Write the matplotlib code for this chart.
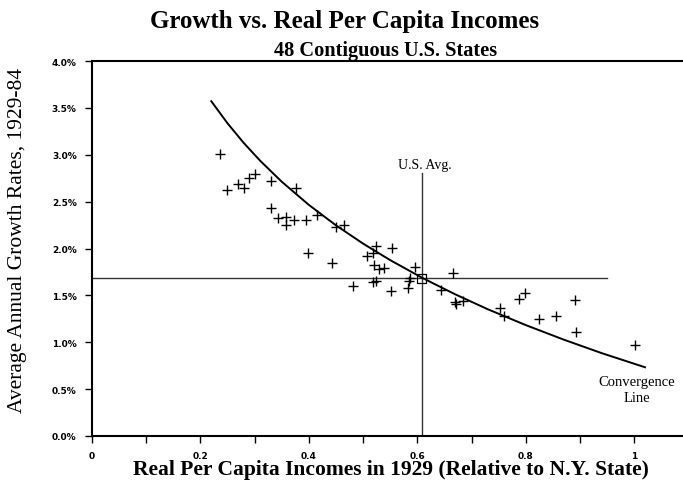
import matplotlib
matplotlib.use("Agg")
import matplotlib.pyplot as plt
from matplotlib.ticker import MultipleLocator, FixedLocator

# ---- data ----
state_income = [0.236, 0.249, 0.269, 0.280, 0.290, 0.301, 0.331, 0.376, 0.330, 0.343,
                0.358, 0.358, 0.372, 0.395, 0.415, 0.450, 0.465, 0.398, 0.442, 0.523,
                0.553, 0.518, 0.507, 0.521, 0.529, 0.539, 0.596, 0.587, 0.585, 0.481,
                0.518, 0.524, 0.552, 0.583, 0.665, 0.644, 0.670, 0.672, 0.685, 0.753,
                0.760, 0.788, 0.798, 0.824, 0.856, 0.890, 0.893, 1.002]
state_growth = [3.008, 2.624, 2.688, 2.645, 2.750, 2.797, 2.718, 2.642, 2.430, 2.328,
                2.334, 2.251, 2.299, 2.304, 2.357, 2.229, 2.251, 1.955, 1.843, 2.024,
                2.004, 1.952, 1.917, 1.824, 1.781, 1.797, 1.800, 1.683, 1.650, 1.603,
                1.645, 1.656, 1.550, 1.575, 1.742, 1.560, 1.426, 1.408, 1.442, 1.362,
                1.277, 1.461, 1.522, 1.245, 1.277, 1.454, 1.106, 0.970]
us_avg_income = 0.608
us_avg_growth = 1.683

curve_x = [0.22, 0.25, 0.28, 0.31, 0.35, 0.40, 0.45, 0.50, 0.55, 0.61,
           0.67, 0.73, 0.80, 0.87, 0.94, 1.02]
curve_y = [3.571, 3.335, 3.125, 2.937, 2.712, 2.465, 2.247, 2.052, 1.876, 1.684,
           1.511, 1.352, 1.183, 1.028, 0.884, 0.733]

x_ticks = [0, 0.2, 0.4, 0.6, 0.8, 1.0]
x_tick_labels = ["0", "0.2", "0.4", "0.6", "0.8", "1"]
y_ticks = [0.0, 0.5, 1.0, 1.5, 2.0, 2.5, 3.0, 3.5, 4.0]
y_tick_labels = ["0.0%", "0.5%", "1.0%", "1.5%", "2.0%", "2.5%", "3.0%", "3.5%", "4.0%"]

serif = ["Liberation Serif", "DejaVu Serif"]

fig = plt.figure(figsize=(6.83, 4.89), dpi=100)
ax = fig.add_axes([92/683, 52/489, 1 - 92/683, 375/489])

ax.set_xlim(0, 1.09)
ax.set_ylim(0, 4.0)

# reference lines
ax.plot([0, 0.95], [us_avg_growth, us_avg_growth], color="#333333", lw=1.0, zorder=2)
ax.plot([us_avg_income, us_avg_income], [0, 2.81], color="#333333", lw=1.0, zorder=2)

# convergence curve
ax.plot(curve_x, curve_y, color="black", lw=1.4, zorder=3)

# states
ax.scatter(state_income, state_growth, marker="+", s=55, color="black", linewidths=1.0, zorder=4)
ax.scatter([us_avg_income], [us_avg_growth], marker="s", s=40, facecolors="none",
           edgecolors="black", linewidths=0.9, zorder=5)

ax.text(us_avg_income + 0.005, 2.90, "U.S. Avg.", ha="center", va="center",
        family=serif, fontsize=10)
ax.text(1.005, 0.50, "Convergence\nLine", ha="center", va="center",
        family=serif, fontsize=10.5, linespacing=1.3)

# axes styling
ax.spines["right"].set_visible(False)
for s in ["left", "bottom", "top"]:
    ax.spines[s].set_linewidth(1.5)

ax.xaxis.set_major_locator(FixedLocator(x_ticks))
ax.set_xticklabels(x_tick_labels)
ax.xaxis.set_minor_locator(MultipleLocator(0.1))
ax.yaxis.set_major_locator(FixedLocator(y_ticks))
ax.set_yticklabels(y_tick_labels)
ax.tick_params(axis="both", which="both", direction="out", length=5, width=1.0)
ax.tick_params(axis="x", pad=6)
ax.tick_params(axis="y", pad=6)
for lab in ax.get_xticklabels() + ax.get_yticklabels():
    lab.set_fontweight("bold")
    lab.set_fontsize(6.5)
    lab.set_family("DejaVu Sans")

fig.text(391/683, 1 - 470/489, "Real Per Capita Incomes in 1929 (Relative to N.Y. State)",
         ha="center", va="center", family=serif, fontsize=15.5, fontweight="bold")
fig.text(18/683, 1 - 240/489, "Average Annual Growth Rates, 1929-84",
         ha="center", va="center", rotation=90, family=serif, fontsize=15.5)

fig.text(0.505, 0.956, "Growth vs. Real Per Capita Incomes", ha="center", va="center",
         family=serif, fontsize=18, fontweight="bold")
fig.text(386/683, 1 - 51/489, "48 Contiguous U.S. States", ha="center", va="center",
         family=serif, fontsize=14.7, fontweight="bold")

fig.savefig("out.png", dpi=100)
